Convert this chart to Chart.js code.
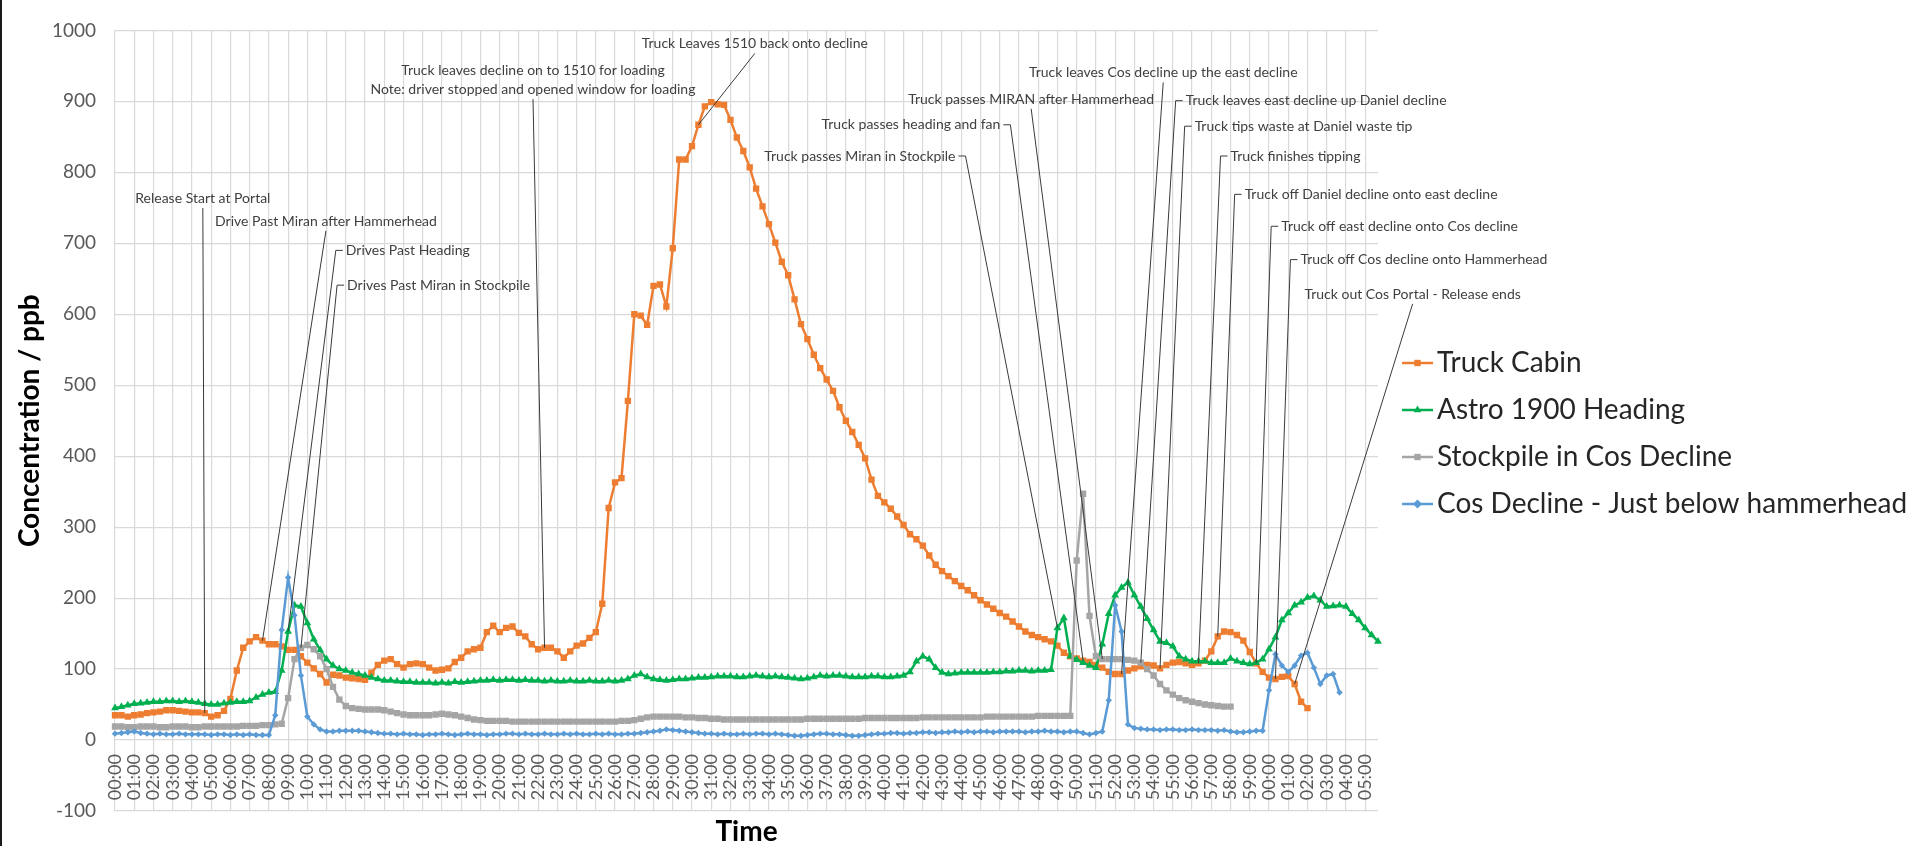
<!DOCTYPE html>
<html>
<head>
<meta charset="utf-8">
<script src="https://cdn.jsdelivr.net/npm/chart.js@4.4.0/dist/chart.umd.min.js"></script>
<style>
  html, body { margin: 0; padding: 0; background: #fff; }
  #wrap { position: relative; width: 1917px; height: 846px; }
  #edge { position: absolute; left: 0; top: 0; width: 2px; height: 846px; background: #1a1a1a; }
</style>
</head>
<body>
<div id="wrap"><canvas id="chart" width="1917" height="846"></canvas><div id="edge"></div></div>
<script>
// ----------------- DATA -----------------
// one sample every 20 s, labels are mm:ss (clock rolls over after 59:40)
const timeLabels = [
  "00:00","00:20","00:40","01:00","01:20","01:40","02:00","02:20","02:40","03:00","03:20","03:40",
  "04:00","04:20","04:40","05:00","05:20","05:40","06:00","06:20","06:40","07:00","07:20","07:40",
  "08:00","08:20","08:40","09:00","09:20","09:40","10:00","10:20","10:40","11:00","11:20","11:40",
  "12:00","12:20","12:40","13:00","13:20","13:40","14:00","14:20","14:40","15:00","15:20","15:40",
  "16:00","16:20","16:40","17:00","17:20","17:40","18:00","18:20","18:40","19:00","19:20","19:40",
  "20:00","20:20","20:40","21:00","21:20","21:40","22:00","22:20","22:40","23:00","23:20","23:40",
  "24:00","24:20","24:40","25:00","25:20","25:40","26:00","26:20","26:40","27:00","27:20","27:40",
  "28:00","28:20","28:40","29:00","29:20","29:40","30:00","30:20","30:40","31:00","31:20","31:40",
  "32:00","32:20","32:40","33:00","33:20","33:40","34:00","34:20","34:40","35:00","35:20","35:40",
  "36:00","36:20","36:40","37:00","37:20","37:40","38:00","38:20","38:40","39:00","39:20","39:40",
  "40:00","40:20","40:40","41:00","41:20","41:40","42:00","42:20","42:40","43:00","43:20","43:40",
  "44:00","44:20","44:40","45:00","45:20","45:40","46:00","46:20","46:40","47:00","47:20","47:40",
  "48:00","48:20","48:40","49:00","49:20","49:40","50:00","50:20","50:40","51:00","51:20","51:40",
  "52:00","52:20","52:40","53:00","53:20","53:40","54:00","54:20","54:40","55:00","55:20","55:40",
  "56:00","56:20","56:40","57:00","57:20","57:40","58:00","58:20","58:40","59:00","59:20","59:40",
  "00:00","00:20","00:40","01:00","01:20","01:40","02:00","02:20","02:40","03:00","03:20","03:40",
  "04:00","04:20","04:40","05:00","05:20","05:40"
];

const truckCabin = [
  35,35,33,35,36,38,39,40,42,42, 41,40,39,39,38,33,35,41,58,98,
  130,139,145,140,135,135,132,127,127,118, 109,101,93,81,92,91,88,87,86,85,
  95,106,112,114,107,102,107,108,107,102, 98,99,101,110,116,125,128,130,152,161,
  152,158,160,151,146,135,128,130,130,125, 116,125,133,136,144,152,192,327,363,369,
  478,600,598,585,640,642,611,693,818,818, 837,867,893,899,896,895,874,849,830,807,
  777,752,727,701,674,655,621,586,565,543, 524,508,492,469,450,434,416,397,367,344,
  335,326,315,303,290,283,274,260,247,238, 231,224,217,211,204,197,191,185,179,174,
  167,160,153,148,145,142,139,133,123,118, 115,112,110,106,102,96,93,93,98,101,
  104,106,105,101,106,109,110,108,106,108, 112,125,146,153,152,148,140,124,108,96,
  88,86,89,90,79,54,45,
  null,null,null,null,null,null,null,null,null,null,null
];

const astroHeading = [
  45,47,49,51,52,53,54,54,55,55, 54,55,54,53,51,50,50,52,53,54,
  54,55,60,64,67,68,98,153,190,188, 165,142,127,114,105,100,98,95,93,91,
  88,86,84,84,83,82,82,81,81,81, 80,81,80,82,81,82,83,84,84,85,
  84,85,85,84,85,84,84,83,84,83, 83,84,83,83,84,83,83,84,83,84,
  86,91,93,89,86,85,84,85,86,86, 87,88,88,89,90,90,90,89,89,90,
  91,90,89,90,89,88,87,86,87,89, 91,90,91,91,90,89,89,89,90,90,
  89,89,90,91,96,111,118,114,102,95, 93,94,95,95,95,95,95,96,96,97,
  97,98,98,97,98,98,99,158,172,118, 113,109,105,102,135,178,204,215,222,204,
  188,171,155,139,137,132,118,114,111,111, 111,109,109,109,115,111,109,107,109,114,
  128,145,169,179,190,194,201,203,197,188, 189,190,188,178,169,158,148,139
];

const stockpile = [
  19,19,18,18,19,19,19,18,18,19, 19,19,18,18,19,19,19,19,19,19,
  20,20,20,21,21,22,23,59,114,130, 134,128,118,100,75,57,48,45,44,43,
  43,43,42,40,38,36,35,35,35,35, 36,37,36,35,33,31,29,28,27,27,
  27,27,26,26,26,26,26,26,26,26, 26,26,26,26,26,26,26,26,26,27,
  27,28,30,32,33,33,33,33,33,32, 32,31,31,30,30,29,29,29,29,29,
  29,29,29,29,29,29,29,29,30,30, 30,30,30,30,30,30,30,31,31,31,
  31,31,31,31,31,31,32,32,32,32, 32,32,32,32,32,32,33,33,33,33,
  33,33,33,33,34,34,34,34,34,34, 253,347,175,118,114,114,114,114,113,112,
  109,100,91,79,70,64,59,56,54,52, 50,49,48,47,47,
  null,null,null,null,null,null,null,null,null,null,null,null,
  null,null,null,null,null,null,null,null,null,null,null
];

const cosDecline = [
  9,10,11,12,10,9,8,9,8,8, 9,8,8,8,8,7,8,8,7,8,
  7,8,7,7,7,35,155,229,176,91, 33,22,15,12,12,13,13,13,13,12,
  11,10,9,9,8,9,8,8,7,8, 8,9,8,7,8,9,8,8,7,8,
  8,9,9,8,9,8,8,9,8,8, 9,8,9,8,8,9,8,9,8,8,
  9,9,10,11,12,13,15,14,13,12, 11,10,9,9,8,9,8,8,9,8,
  9,9,8,9,8,7,6,6,7,8, 9,9,8,8,7,6,6,7,8,9,
  9,10,10,9,10,10,11,11,10,11, 11,12,11,12,11,12,12,11,12,12,
  12,12,11,12,12,13,12,12,11,12, 12,10,8,10,12,56,190,153,22,17,
  16,15,15,14,15,15,14,14,15,14, 14,14,13,14,12,11,11,12,13,13,
  70,121,105,96,105,119,123,102,79,91, 93,67,
  null,null,null,null,null,null
];

const seriesNames = ["Truck Cabin", "Astro 1900 Heading", "Stockpile in Cos Decline", "Cos Decline - Just below hammerhead"];
const seriesColors = ["#ED7D31", "#00B050", "#A5A5A5", "#5B9BD5"];
const seriesMarkers = ["rect", "triangle", "rect", "rectRot"];

const yTicks = { min: -100, max: 1000, step: 100 };

// event notes: series index + sample index they point at, label placed at [sample, ppb]
const notes = [
  { text: "Release Start at Portal", series: 0, index: 14, at: [13.7, 763], side: "below" },
  { text: "Drive Past Miran after Hammerhead", series: 0, index: 23, at: [32.9, 731], side: "below" },
  { text: "Drives Past Heading", series: 1, index: 27, at: [36.0, 690], side: "left" },
  { text: "Drives Past Miran in Stockpile", series: 2, index: 29, at: [36.2, 641], side: "left" },
  { text: ["Truck leaves decline on to 1510 for loading", "Note: driver stopped and opened window for loading"], series: 0, index: 67, at: [65.2, 930], side: "below" },
  { text: "Truck Leaves 1510 back onto decline", series: 0, index: 91, at: [99.8, 981], side: "below" },
  { text: "Truck passes Miran in Stockpile", series: 1, index: 147, at: [131.1, 823], side: "right" },
  { text: "Truck passes heading and fan", series: 0, index: 151, at: [138.1, 867], side: "right" },
  { text: "Truck passes MIRAN after Hammerhead", series: 2, index: 154, at: [142.9, 903], side: "below" },
  { text: "Truck leaves Cos decline up the east decline", series: 0, index: 157, at: [163.5, 940], side: "below" },
  { text: "Truck leaves east decline up Daniel decline", series: 2, index: 160, at: [167.0, 901], side: "left" },
  { text: "Truck tips waste at Daniel waste tip", series: 0, index: 163, at: [168.4, 865], side: "left" },
  { text: "Truck finishes tipping", series: 0, index: 169, at: [174.0, 823], side: "left" },
  { text: "Truck off Daniel decline onto east decline", series: 0, index: 172, at: [176.2, 769], side: "left" },
  { text: "Truck off east decline onto Cos decline", series: 0, index: 178, at: [181.9, 724], side: "left" },
  { text: "Truck off Cos decline onto Hammerhead", series: 0, index: 181, at: [184.9, 677], side: "left" },
  { text: "Truck out Cos Portal - Release ends", series: 0, index: 184, at: [202.4, 628], side: "below" }
];

// ----------------- PLUGINS -----------------
function drawMarker(ctx, shape, x, y, r) {
  ctx.beginPath();
  if (shape === "rect") {
    const s = r * Math.SQRT1_2;
    ctx.rect(x - s, y - s, 2 * s, 2 * s);
  } else if (shape === "triangle") {
    ctx.moveTo(x, y - r);
    ctx.lineTo(x + r * 0.866, y + r * 0.5);
    ctx.lineTo(x - r * 0.866, y + r * 0.5);
    ctx.closePath();
  } else {
    ctx.moveTo(x, y - r); ctx.lineTo(x + r, y); ctx.lineTo(x, y + r); ctx.lineTo(x - r, y);
    ctx.closePath();
  }
  ctx.fill();
}

const notesPlugin = {
  id: "notes",
  afterDatasetsDraw(chart) {
    const { ctx, scales: { x, y } } = chart;
    ctx.save();
    ctx.font = "14px Lato";
    ctx.fillStyle = "#404040";
    ctx.strokeStyle = "#3a3a3a";
    ctx.lineWidth = 1;
    ctx.textAlign = "center";
    ctx.textBaseline = "middle";
    notes.forEach(n => {
      const pt = chart.getDatasetMeta(n.series).data[n.index];
      const lx = x.getPixelForValue(n.at[0]);
      const ly = y.getPixelForValue(n.at[1]);
      const lines = [].concat(n.text);
      const lh = 19;
      const w = Math.max(...lines.map(t => ctx.measureText(t).width));
      const h = lines.length * lh;
      let left = lx - w / 2;
      if (n.side === "left") left = lx;
      if (n.side === "right") left = lx - w;
      const top = ly - h / 2;
      lines.forEach((t, k) => ctx.fillText(t, left + w / 2, top + lh * (k + 0.5)));
      ctx.beginPath();
      if (n.side === "left") {
        ctx.moveTo(left - 3, ly); ctx.lineTo(left - 10, ly);
      } else if (n.side === "right") {
        ctx.moveTo(left + w + 3, ly); ctx.lineTo(left + w + 10, ly);
      } else {
        ctx.moveTo(left + w / 2, top + h);
      }
      ctx.lineTo(pt.x, pt.y);
      ctx.stroke();
    });
    ctx.restore();
  }
};

const legendPlugin = {
  id: "sideLegend",
  afterDraw(chart) {
    const { ctx } = chart;
    ctx.save();
    ctx.font = "28px Lato";
    ctx.textBaseline = "middle";
    ctx.textAlign = "left";
    seriesNames.forEach((name, k) => {
      const cy = 363 + k * 47;
      ctx.strokeStyle = seriesColors[k];
      ctx.fillStyle = seriesColors[k];
      ctx.lineWidth = 2.5;
      ctx.beginPath(); ctx.moveTo(1402, cy); ctx.lineTo(1433, cy); ctx.stroke();
      drawMarker(ctx, seriesMarkers[k], 1417.5, cy, 4.5);
      ctx.fillStyle = "#262626";
      ctx.fillText(name, 1437, cy);
    });
    ctx.restore();
  }
};

// ----------------- CHART -----------------
Chart.defaults.font.family = "Lato";
const seriesData = [truckCabin, astroHeading, stockpile, cosDecline];

new Chart(document.getElementById("chart"), {
  type: "line",
  data: {
    labels: timeLabels,
    datasets: seriesData.map((d, k) => ({
      label: seriesNames[k],
      data: d,
      borderColor: seriesColors[k],
      backgroundColor: seriesColors[k],
      borderWidth: 2.5,
      pointStyle: seriesMarkers[k],
      pointRadius: seriesMarkers[k] === "rectRot" ? 3.2 : 4.5,
      pointBorderWidth: 0,
      tension: 0,
      spanGaps: false,
      order: 4 - k
    }))
  },
  options: {
    responsive: false,
    animation: false,
    devicePixelRatio: 1,
    layout: { padding: { left: 0, right: 539, top: 16, bottom: 0 } },
    plugins: { legend: { display: false }, tooltip: { enabled: false } },
    scales: {
      // category axis crosses the value axis at 0, like the original
      x: {
        type: "category",
        position: { y: 0 },
        offset: false,
        border: { display: false },
        grid: { drawTicks: false, color: "#D9D9D9", lineWidth: 1.2 },
        ticks: {
          autoSkip: false,
          minRotation: 90,
          maxRotation: 90,
          padding: 14,
          color: "#595959",
          font: { size: 18 },
          callback: (v, i) => (i % 3 === 0 ? timeLabels[i] : null)
        },
        afterFit: s => { s.height = 0; }
      },
      // carries the "Time" title at the bottom edge
      xTitle: {
        type: "category",
        position: "bottom",
        grid: { display: false },
        border: { display: false },
        ticks: { display: false },
        title: { display: true, text: "Time", color: "#000", font: { size: 28, weight: "bold", lineHeight: 1 }, padding: { top: 0, bottom: 0 } },
        afterFit: s => { s.height = 35; }
      },
      y: {
        min: yTicks.min,
        max: yTicks.max,
        border: { display: false },
        grid: { drawTicks: false, color: "#D9D9D9", lineWidth: 1.2 },
        ticks: { stepSize: yTicks.step, padding: 19, color: "#595959", font: { size: 19 }, callback: v => String(v) },
        title: { display: true, text: "Concentration / ppb", color: "#000", font: { size: 28, weight: "bold", lineHeight: 1.2 }, padding: { top: 13, bottom: 0 } },
        afterFit: s => { s.width = 115; }
      }
    }
  },
  plugins: [notesPlugin, legendPlugin]
});
</script>
</body>
</html>
